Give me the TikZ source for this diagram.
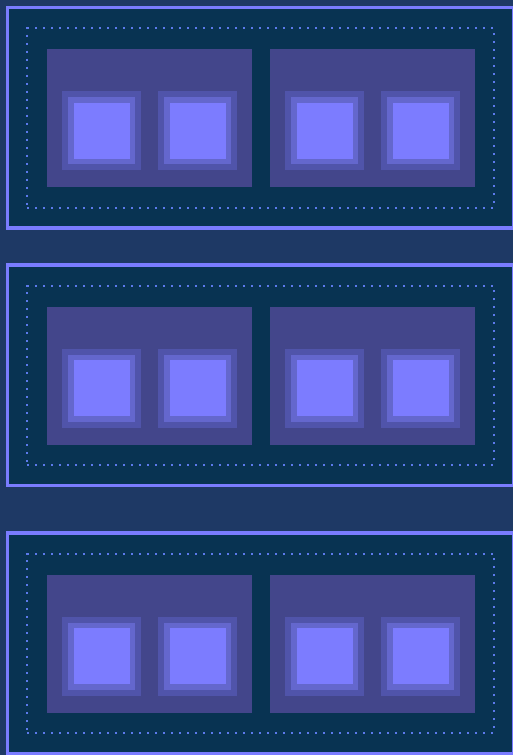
\documentclass[tikz,border=0pt]{standalone}
\usepackage{tikz}
\usetikzlibrary{positioning}
\definecolor{cPage}{RGB}{30, 57, 101}
\definecolor{cPanel}{RGB}{8, 51, 82}
\definecolor{bPanel}{RGB}{122, 124, 255}
\definecolor{bGuide}{RGB}{92, 122, 235}
\definecolor{cRack}{RGB}{67, 70, 139}
\definecolor{cHalo}{RGB}{80, 84, 170}
\definecolor{bChip}{RGB}{100, 103, 205}
\definecolor{cChip}{RGB}{124, 124, 255}

\begin{document}
\begin{tikzpicture}[
    x=1pt, y=-1pt,
    box/.style={
        anchor=north west,
        inner sep=0pt,
        outer sep=0pt
    },
    panel/.style={box, draw=bPanel, fill=cPanel, line width=3.4pt,
        minimum width=506pt, minimum height=220.5pt},
    guide/.style={box, draw=bGuide, line width=2pt,
        dash pattern=on 2pt off 6pt,
        minimum width=467pt, minimum height=179.5pt},
    rack/.style={box, fill=cRack, minimum width=205pt, minimum height=138pt},
    halo/.style={inner sep=0pt, outer sep=0pt, fill=cHalo,
        minimum width=79pt, minimum height=79pt},
    chip/.style={inner sep=0pt, outer sep=0pt, fill=cChip, draw=bChip,
        line width=5.5pt, minimum width=61.5pt, minimum height=61.5pt}
]

\fill[cPage] (0,0) rectangle (513,755);
\useasboundingbox (0,0) rectangle (513,755);

% three panels, each with two racks of two chips
\foreach \i/\top in {1/7.5, 2/265, 3/533} {
    \node[panel] (panel\i) at (7.5, \top) {};
    \node[guide] (guide\i) at (27, \top+20.5) {};
    \foreach \b/\bx in {a/47, b/270} {
        \node[rack] (rack\i\b) at (\bx, \top+41.5) {};
        \foreach \s/\sx in {1/54.5, 2/150.5} {
            \node[halo] (halo\i\b\s) at (\bx+\sx, \top+123) {};
            \node[chip] (chip\i\b\s) at (halo\i\b\s.center) {};
        }
    }
}

\end{tikzpicture}
\end{document}
